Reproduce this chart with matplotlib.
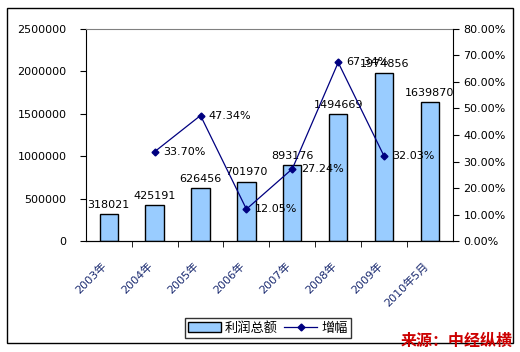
import matplotlib
matplotlib.use('Agg')
import matplotlib.pyplot as plt
import matplotlib.transforms as mtransforms
from matplotlib.patches import Rectangle
from matplotlib.lines import Line2D
from matplotlib.ticker import FuncFormatter, FixedLocator

plt.rcParams['font.family'] = ['DejaVu Sans', 'Noto Sans CJK SC']

# data
years = ['2003年', '2004年', '2005年', '2006年', '2007年', '2008年', '2009年', '2010年5月']
profit = [318021, 425191, 626456, 701970, 893176, 1494669, 1974856, 1639870]
growth_idx = [1, 2, 3, 4, 5, 6]
growth = [33.70, 47.34, 12.05, 27.24, 67.34, 32.03]

fig = plt.figure(figsize=(5.2, 3.52), dpi=100)
ax = fig.add_axes([0.165, 0.315, 0.706, 0.603])

x = list(range(len(years)))
ax.bar(x, profit, width=0.4, color='#99ccff', edgecolor='black', linewidth=1, zorder=2)
for xi, v in zip(x, profit):
    ax.annotate(str(v), (xi, v), xytext=(0, 3), textcoords='offset points',
                ha='center', va='bottom', fontsize=8)

ax.set_xlim(-0.5, len(years) - 0.5)
ax.set_ylim(0, 2500000)
ax.set_yticks(range(0, 2500001, 500000))
ax.yaxis.set_major_formatter(FuncFormatter(lambda v, p: '%d' % v))
ax.set_xticks(x)
ax.set_xticklabels(years, rotation=45, ha='right', rotation_mode='anchor',
                   color='#1a2a70', fontsize=8)
ax.tick_params(axis='x', length=0, pad=14)
# nudge rotated labels a little to the left, as in the original
shift = mtransforms.ScaledTranslation(-7 / 100, 0, fig.dpi_scale_trans)
for lab in ax.get_xticklabels():
    lab.set_transform(lab.get_transform() + shift)
ax.xaxis.set_minor_locator(FixedLocator([i + 0.5 for i in range(len(years) - 1)]))
ax.tick_params(axis='x', which='minor', length=4, direction='out')
ax.tick_params(axis='y', labelsize=8, length=4, pad=10)
ax.spines['top'].set_color('#808080')
ax.spines['right'].set_visible(False)

ax2 = ax.twinx()
ax2.plot(growth_idx, growth, color='#000080', linewidth=0.9, marker='D', markersize=3.5, zorder=3)
for xi, g in zip(growth_idx, growth):
    ax2.annotate('%.2f%%' % g, (xi, g), xytext=(6, 0), textcoords='offset points',
                 ha='left', va='center', fontsize=8)
ax2.set_ylim(0, 80)
ax2.set_yticks(range(0, 81, 10))
ax2.yaxis.set_major_formatter(FuncFormatter(lambda v, p: '%.2f%%' % v))
ax2.tick_params(axis='y', labelsize=8, length=4)
ax2.spines['top'].set_visible(False)
ax2.spines['left'].set_visible(False)

# legend
handles = [Rectangle((0, 0), 1, 1, facecolor='#99ccff', edgecolor='black'),
           Line2D([], [], color='#000080', marker='D', markersize=3.5, linewidth=0.9)]
fig.legend(handles, ['利润总额', '增幅'], loc='center', bbox_to_anchor=(0.515, 0.068),
           ncol=2, fontsize=9.5, frameon=True, fancybox=False, edgecolor='black',
           borderpad=0.25, handlelength=2.5, columnspacing=0.5, handletextpad=0.3,
           borderaxespad=0)

# outer border
fig.patches.append(Rectangle((7 / 520, 1 - 343 / 352), 506 / 520, 335 / 352,
                             transform=fig.transFigure, fill=False,
                             edgecolor='black', linewidth=1))

fig.text(0.986, 0.01, '来源：中经纵横', color='#cc0000', fontsize=11.5, fontweight='bold',
         ha='right', va='bottom', family=['Noto Sans CJK SC'])

fig.savefig('out.png', dpi=100)
